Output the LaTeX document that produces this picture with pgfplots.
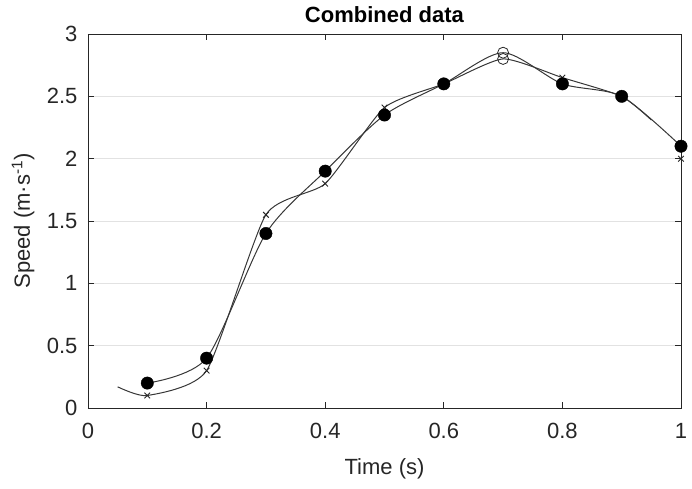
\documentclass[border=0pt]{standalone}
\usepackage{fontspec}
\setmainfont{Liberation Sans}
\usepackage{pgfplots}
\pgfplotsset{compat=1.18}
\definecolor{axgray}{RGB}{38,38,38}
\definecolor{gridgray}{RGB}{226,226,226}
\definecolor{linegray}{RGB}{55,55,55}
\begin{document}
\begin{tikzpicture}[font=\fontsize{22}{26}\selectfont]
\begin{axis}[
  scale only axis, width=593pt, height=374pt,
  xmin=0, xmax=1, ymin=0, ymax=3,
  xtick={0,0.2,0.4,0.6,0.8,1}, ytick={0,0.5,1,1.5,2,2.5,3},
  ymajorgrids, major grid style={gridgray, line width=0.8pt},
  tick align=inside, major tick length=6pt,
  axis line style={axgray, line width=0.8pt},
  tick style={axgray, line width=0.8pt},
  ticklabel style={text=axgray, font=\fontsize{22}{26}\selectfont},
  xticklabel style={yshift=-12pt},
  yticklabel style={xshift=-7pt},
  /pgf/number format/assume math mode=true,
  /pgf/number format/fixed,
  title={\textbf{Combined data}},
  title style={at={(axis description cs:0.5,1.035)}, anchor=center, text=black},
  xlabel={Time (s)},
  xlabel style={at={(axis description cs:0.5,-0.1631)}, anchor=center, text=axgray},
  ylabel={Speed (m·s\textsuperscript{-1})},
  ylabel style={at={(axis description cs:-0.1096,0.5)}, anchor=center, text=axgray},
  clip=false,
]
% fitted curves
\addplot[linegray, line width=1pt, smooth, tension=0.45, no marks] coordinates {
  (0.1,0.2) (0.2,0.4) (0.3,1.4) (0.4,1.9) (0.5,2.35) (0.6,2.6) (0.7,2.85) (0.8,2.6) (0.9,2.5) (1.0,2.1)};
\addplot[linegray, line width=1pt, smooth, tension=0.35, no marks] coordinates {
  (0.05,0.17) (0.1,0.1) (0.2,0.3) (0.3,1.55) (0.4,1.8) (0.5,2.41) (0.6,2.6) (0.7,2.8) (0.8,2.65) (0.9,2.5) (0.95,2.31)};
% cross markers
\addplot[only marks, mark=x, mark size=4pt, axgray, line width=0.9pt] coordinates {
  (0.1,0.1) (0.2,0.3) (0.3,1.55) (0.4,1.8) (0.5,2.41) (0.6,2.6) (0.8,2.65) (0.9,2.5) (1.0,2.0)};
% filled circle markers
\addplot[only marks, mark=*, mark size=6.2pt, black] coordinates {
  (0.1,0.2) (0.2,0.4) (0.3,1.4) (0.4,1.9) (0.5,2.35) (0.6,2.6) (0.8,2.6) (0.9,2.5) (1.0,2.1)};
% open circles at peak
\addplot[only marks, mark=o, mark size=5.5pt, axgray, line width=0.8pt, mark options={fill=white}] coordinates {
  (0.7,2.8) (0.7,2.85)};
\end{axis}
\pgfresetboundingbox
\path (current axis.south west) ++(-88pt,-80pt) rectangle ++(692pt,488pt);
\end{tikzpicture}
\end{document}
